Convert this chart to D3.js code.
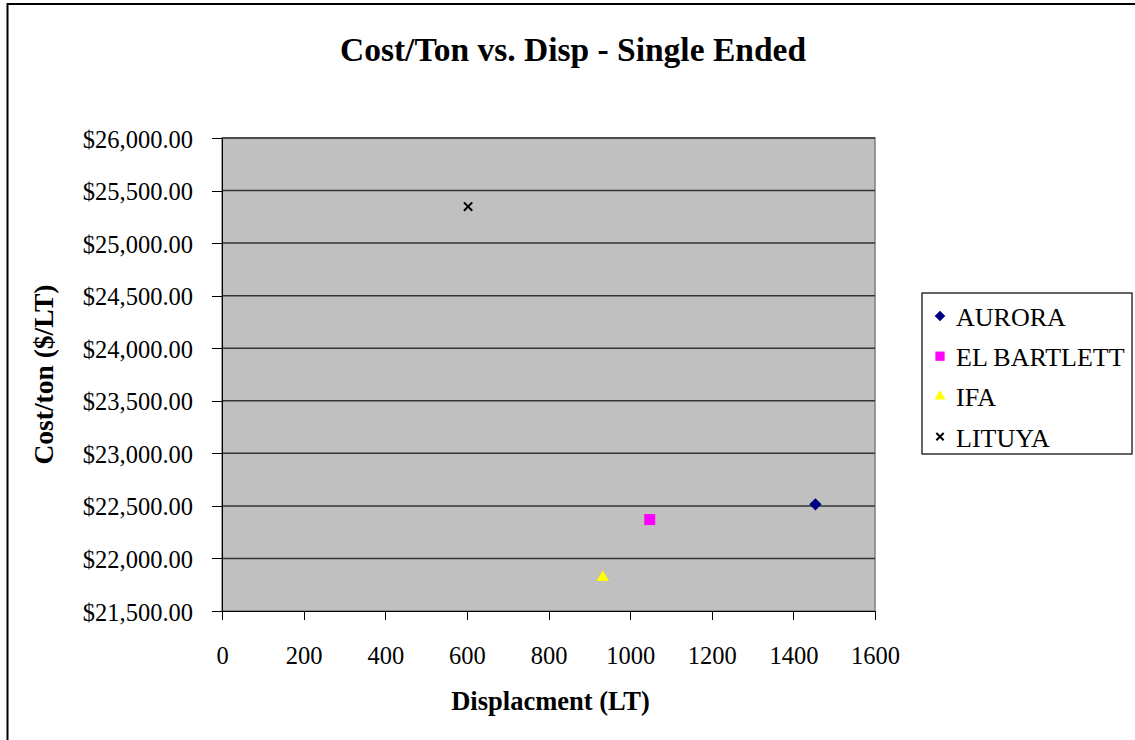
<!DOCTYPE html>
<html lang="en">
<head>
    <meta charset="utf-8">
    <script src="https://d3js.org/d3.v7.min.js"></script>
    <style>
        body {
            margin: 0;
            background: #fff;
        }

        text {
            font-family: "Liberation Serif", "Times New Roman", serif;
            fill: #000;
        }

        .title {
            font-size: 33.5px;
            font-weight: bold;
        }

        .axis-title {
            font-size: 26.5px;
            font-weight: bold;
        }

        .axis text {
            font-size: 24.5px;
            font-family: "Liberation Serif", "Times New Roman", serif;
        }

        .axis path, .axis line {
            stroke: #000;
            shape-rendering: crispEdges;
        }

        .grid line {
            stroke: #333;
            stroke-width: 1.5;
        }

        .legend text {
            font-size: 26px;
        }
    </style>
</head>
<body>
<div id="chart"></div>

<script>

    // data
    var ships = ["AURORA", "EL BARTLETT", "IFA", "LITUYA"];
    var displacement = [1454, 1048, 933, 603];
    var costPerTon = [22515, 22370, 21820, 25348];

    var xTicks = [0, 200, 400, 600, 800, 1000, 1200, 1400, 1600];
    var yTicks = [21500, 22000, 22500, 23000, 23500, 24000, 24500, 25000, 25500, 26000];

    var colors = ["#000080", "#FF00FF", "#FFFF00", "#000000"];

    var W = 1135, H = 740;
    var margin = {top: 138, right: 260, bottom: 129, left: 222};
    var width = W - margin.left - margin.right;   // 653
    var height = H - margin.top - margin.bottom;  // 473

    var svg = d3.select("#chart").append("svg")
        .attr("width", W)
        .attr("height", H);

    // outer frame (runs off the right and bottom edges like the original)
    svg.append("rect")
        .attr("x", 7.5)
        .attr("y", 4)
        .attr("width", W + 20)
        .attr("height", H + 20)
        .attr("fill", "#fff")
        .attr("stroke", "#000")
        .attr("stroke-width", 2);

    svg.append("text")
        .attr("class", "title")
        .attr("x", 573)
        .attr("y", 61)
        .attr("text-anchor", "middle")
        .text("Cost/Ton vs. Disp - Single Ended");

    var g = svg.append("g")
        .attr("transform", "translate(" + margin.left + "," + margin.top + ")");

    var x = d3.scaleLinear()
        .domain([0, 1600])
        .range([0, width]);

    var y = d3.scaleLinear()
        .domain([21500, 26000])
        .range([height, 0]);

    // plot area
    g.append("rect")
        .attr("width", width)
        .attr("height", height)
        .attr("fill", "#C0C0C0")
        .attr("stroke", "#808080")
        .attr("stroke-width", 1.5);

    // horizontal gridlines
    g.append("g")
        .attr("class", "grid")
        .selectAll("line")
        .data(yTicks.slice(1))
        .enter().append("line")
        .attr("x1", 0)
        .attr("x2", width)
        .attr("y1", function (d) { return y(d); })
        .attr("y2", function (d) { return y(d); });

    // axes
    var yAxis = d3.axisLeft(y)
        .tickValues(yTicks)
        .tickFormat(d3.format("$,.2f"))
        .tickSize(10)
        .tickSizeOuter(0)
        .tickPadding(19);

    var xAxis = d3.axisBottom(x)
        .tickValues(xTicks)
        .tickFormat(d3.format("d"))
        .tickSize(9)
        .tickSizeOuter(0)
        .tickPadding(27);

    var gy = g.append("g")
        .attr("class", "axis y")
        .call(yAxis);
    gy.select(".domain").attr("stroke-width", 1.5);
    gy.selectAll("text").attr("dy", "0.37em");

    var gx = g.append("g")
        .attr("class", "axis x")
        .attr("transform", "translate(0," + height + ")")
        .call(xAxis);
    gx.select(".domain").attr("stroke-width", 1.5);

    // axis titles
    svg.append("text")
        .attr("class", "axis-title")
        .attr("x", margin.left + width / 2 + 2)
        .attr("y", 710)
        .attr("text-anchor", "middle")
        .text("Displacment (LT)");

    svg.append("text")
        .attr("class", "axis-title")
        .style("font-size", "27.5px")
        .attr("transform", "translate(53," + (margin.top + height / 2) + ") rotate(-90)")
        .attr("text-anchor", "middle")
        .text("Cost/ton ($/LT)");

    // marker shapes
    var xMark = {
        draw: function (ctx, size) {
            var r = Math.sqrt(size) / 2;
            ctx.moveTo(-r, -r);
            ctx.lineTo(r, r);
            ctx.moveTo(r, -r);
            ctx.lineTo(-r, r);
        }
    };
    var types = [d3.symbolSquare, d3.symbolSquare, d3.symbolTriangle, xMark];
    var rotations = [45, 0, 0, 0];
    var plotSizes = [76, 121, 66, 69];
    var legendSizes = [56, 86, 52, 53];

    function drawMarker(sel, i, size) {
        var p = sel.append("path")
            .attr("d", d3.symbol().type(types[i]).size(size)());
        if (i === 3) {
            p.attr("fill", "none").attr("stroke", colors[i]).attr("stroke-width", 2);
        } else {
            p.attr("fill", colors[i]);
        }
        return p;
    }

    ships.forEach(function (name, i) {
        var m = g.append("g")
            .attr("transform", "translate(" + x(displacement[i]) + "," + y(costPerTon[i]) + ") rotate(" + rotations[i] + ")");
        drawMarker(m, i, plotSizes[i]);
    });

    // legend
    var legend = svg.append("g")
        .attr("class", "legend")
        .attr("transform", "translate(922,293)");

    legend.append("rect")
        .attr("width", 210)
        .attr("height", 161)
        .attr("fill", "#fff")
        .attr("stroke", "#000")
        .attr("stroke-width", 1.2);

    ships.forEach(function (name, i) {
        var row = legend.append("g")
            .attr("transform", "translate(0," + (i * 40.2) + ")");
        var m = row.append("g")
            .attr("transform", "translate(18,23) rotate(" + rotations[i] + ")");
        drawMarker(m, i, legendSizes[i]);
        row.append("text")
            .attr("x", 34)
            .attr("y", 33)
            .text(name);
    });

</script>
</body>
</html>
